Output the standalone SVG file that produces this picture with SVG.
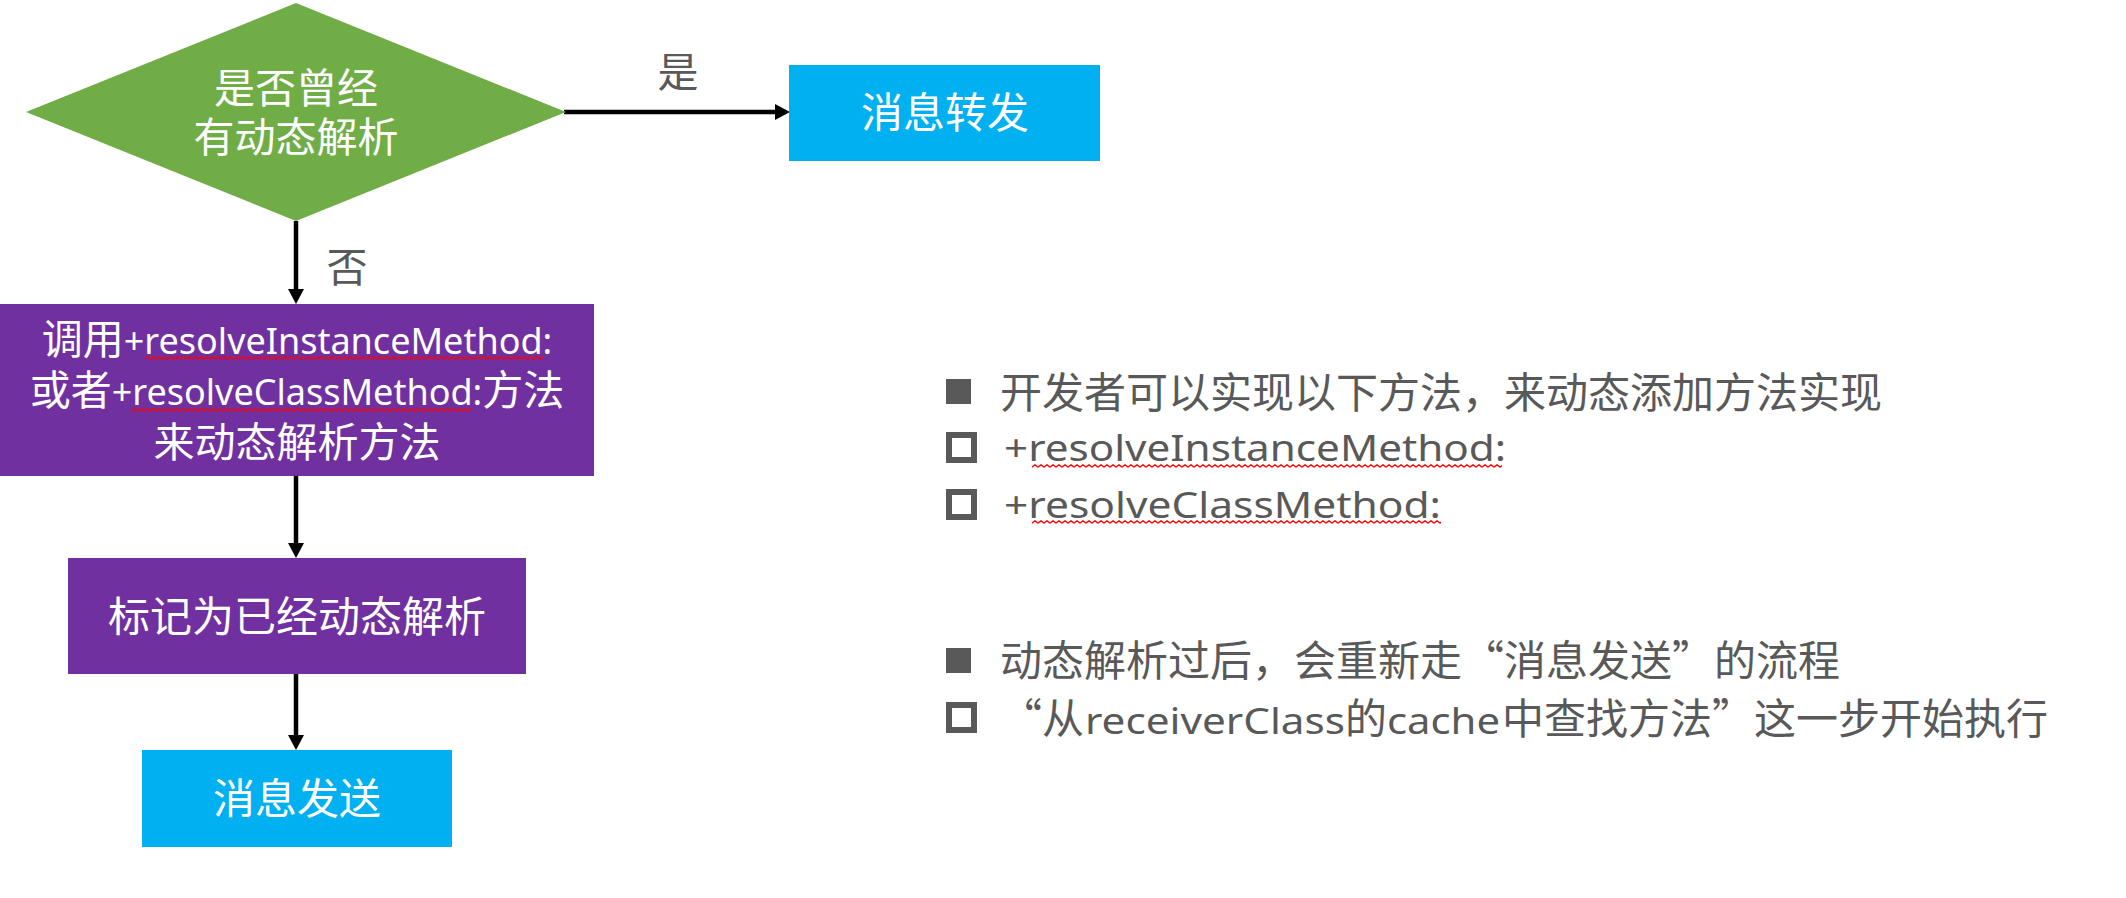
<svg xmlns="http://www.w3.org/2000/svg" width="2126" height="898" viewBox="0 0 2126 898">
  <style>
    .cjk { font-family: "Noto Sans CJK SC", sans-serif; }
    .lat { font-family: "Noto Sans", "Noto Sans CJK SC", sans-serif; }
    .w { fill: #FFFFFF; }
    .g { fill: #595959; }
    .conn { stroke: #000000; stroke-width: 4.5; fill: none; }
    .squig { fill: url(#squig); }
  </style>
  <defs>
    <marker id="arrow" markerUnits="userSpaceOnUse" markerWidth="15" markerHeight="16" refX="3" refY="8" orient="auto">
      <path d="M0,0 L15,8 L0,16 Z" fill="#000000"/>
    </marker>
    <pattern id="squig" patternUnits="userSpaceOnUse" x="0" y="0" width="6" height="4">
      <path d="M0,3.2 L3,0.8 L6,3.2" fill="none" stroke="#FF0000" stroke-width="1.3"/>
    </pattern>
  </defs>

  <g id="connectors">
    <line class="conn" x1="564" y1="112" x2="778" y2="112" marker-end="url(#arrow)"/>
    <line class="conn" x1="296" y1="221" x2="296" y2="292" marker-end="url(#arrow)"/>
    <line class="conn" x1="296" y1="476" x2="296" y2="546" marker-end="url(#arrow)"/>
    <line class="conn" x1="296" y1="674" x2="296" y2="738" marker-end="url(#arrow)"/>
    <text class="cjk g" x="678" y="87" font-size="41" text-anchor="middle">是</text>
    <text class="cjk g" x="347" y="282" font-size="41" text-anchor="middle">否</text>
  </g>

  <g id="decision">
    <polygon points="26,112 296,3 566,112 296,221" fill="#70AD47"/>
    <text class="cjk w" x="296" y="103" font-size="41" text-anchor="middle">是否曾经</text>
    <text class="cjk w" x="296" y="152" font-size="41" text-anchor="middle">有动态解析</text>
  </g>

  <g id="forward">
    <rect x="789" y="65" width="311" height="96" fill="#00B0F0"/>
    <text class="cjk w" x="945" y="128" font-size="42" text-anchor="middle">消息转发</text>
  </g>

  <g id="resolve">
    <rect x="0" y="304" width="594" height="172" fill="#7030A0"/>
    <text class="cjk w" x="297" y="354" font-size="41" text-anchor="middle">调用<tspan class="lat" font-size="36">+resolveInstanceMethod:</tspan></text>
    <text class="cjk w" x="297" y="405" font-size="41" text-anchor="middle">或者<tspan class="lat" font-size="36">+resolveClassMethod:</tspan>方法</text>
    <text class="cjk w" x="297" y="457" font-size="41" text-anchor="middle">来动态解析方法</text>
    <rect class="squig" x="145" y="356" width="398" height="4"/>
    <rect class="squig" x="131" y="408" width="341" height="4"/>
  </g>

  <g id="mark">
    <rect x="68" y="558" width="458" height="116" fill="#7030A0"/>
    <text class="cjk w" x="297" y="632" font-size="42" text-anchor="middle">标记为已经动态解析</text>
  </g>

  <g id="send">
    <rect x="142" y="750" width="310" height="97" fill="#00B0F0"/>
    <text class="cjk w" x="297" y="814" font-size="42" text-anchor="middle">消息发送</text>
  </g>

  <g id="notes">
    <rect x="946" y="379" width="25" height="25" fill="#595959"/>
    <text class="cjk g" x="1000" y="408" font-size="42">开发者可以实现以下方法，来动态添加方法实现</text>

    <rect x="949" y="435" width="25" height="25" fill="none" stroke="#595959" stroke-width="6"/>
    <text class="lat g" x="1004" y="461" font-size="36" textLength="502" lengthAdjust="spacingAndGlyphs">+resolveInstanceMethod:</text>
    <rect class="squig" x="1032" y="464" width="470" height="4"/>

    <rect x="949" y="492" width="25" height="25" fill="none" stroke="#595959" stroke-width="6"/>
    <text class="lat g" x="1004" y="518" font-size="36" textLength="437" lengthAdjust="spacingAndGlyphs">+resolveClassMethod:</text>
    <rect class="squig" x="1032" y="520" width="409" height="4"/>

    <rect x="946" y="648" width="25" height="25" fill="#595959"/>
    <text class="cjk g" x="1000" y="676" font-size="42">动态解析过后，会重新走“消息发送”的流程</text>

    <rect x="949" y="705" width="25" height="25" fill="none" stroke="#595959" stroke-width="6"/>
    <text class="cjk g" x="1000" y="734" font-size="42">“从</text>
    <text class="lat g" x="1085" y="734" font-size="36" textLength="260" lengthAdjust="spacingAndGlyphs">receiverClass</text>
    <text class="cjk g" x="1345" y="734" font-size="42">的</text>
    <text class="lat g" x="1387" y="734" font-size="36" textLength="113" lengthAdjust="spacingAndGlyphs">cache</text>
    <text class="cjk g" x="1502" y="734" font-size="42">中查找方法”这一步开始执行</text>
  </g>
</svg>
